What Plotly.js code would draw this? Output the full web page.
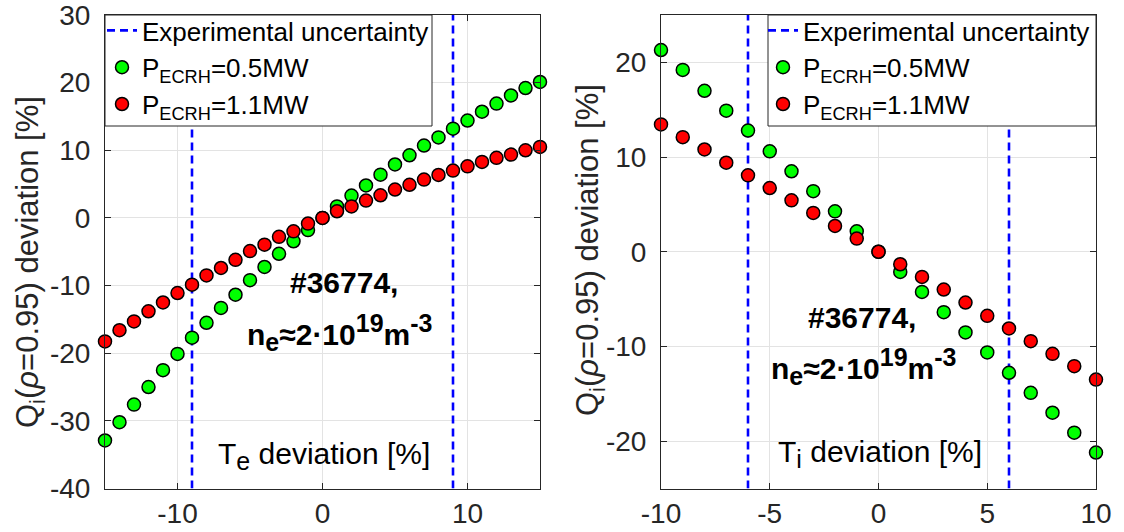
<!DOCTYPE html>
<html>
<head>
<meta charset="utf-8">
<script src="https://cdn.plot.ly/plotly-3.0.1.min.js"></script>
<style>
  html, body { margin: 0; padding: 0; background: #fff; }
  #chart { width: 1124px; height: 532px; }
</style>
</head>
<body>
<div id="chart"></div>
<script>
// Electron temperature scan (left panel)
const teDeviation = [-15,-14,-13,-12,-11,-10,-9,-8,-7,-6,-5,-4,-3,-2,-1,0,1,2,3,4,5,6,7,8,9,10,11,12,13,14,15];
const teQiLowPower = [-32.9,-30.2,-27.6,-25.0,-22.5,-20.1,-17.7,-15.5,-13.3,-11.35,-9.2,-7.25,-5.3,-3.45,-1.8,0,1.7,3.3,4.8,6.4,7.9,9.26,10.7,11.9,13.2,14.4,15.7,16.9,18.1,19.2,20.1];
const teQiHighPower = [-18.25,-16.6,-15.3,-13.8,-12.5,-11.1,-9.87,-8.5,-7.4,-6.2,-4.9,-3.95,-2.8,-1.98,-0.84,0,0.98,1.7,2.56,3.35,4.2,4.9,5.67,6.35,7.0,7.63,8.28,8.88,9.36,10.0,10.5];
const teUncertainty = [-9, 9];

// Ion temperature scan (right panel)
const tiDeviation = [-10,-9,-8,-7,-6,-5,-4,-3,-2,-1,0,1,2,3,4,5,6,7,8,9,10];
const tiQiLowPower = [21.3,19.2,17.0,14.9,12.8,10.6,8.5,6.4,4.27,2.16,0,-2.13,-4.24,-6.38,-8.52,-10.63,-12.78,-14.9,-17.0,-19.1,-21.2];
const tiQiHighPower = [13.45,12.1,10.8,9.4,8.07,6.73,5.43,4.1,2.72,1.39,0,-1.32,-2.66,-3.99,-5.36,-6.77,-8.1,-9.44,-10.78,-12.08,-13.5];
const tiUncertainty = [-6, 6];

// Axis extents and ticks
const teXRange = [-15, 15], teYRange = [-40, 30];
const tiXRange = [-10, 10], tiYRange = [-25, 25];
const teXTicks = [-10, 0, 10], teYTicks = [-40, -30, -20, -10, 0, 10, 20, 30];
const tiXTicks = [-10, -5, 0, 5, 10], tiYTicks = [-20, -10, 0, 10, 20];

// Labels
const seriesNames = ['Experimental uncertainty', 'P<sub>ECRH</sub>=0.5MW', 'P<sub>ECRH</sub>=1.1MW'];
const yLabel = 'Q<sub>i</sub>(<i>ρ</i>=0.95) deviation [%]';
const shotLabel = '<b>#36774,</b>';
const densityLabel = '<b>n<sub><span style="font-size:25px">e</span></sub>≈2·10<sup><span style="font-size:25px">19</span></sup>m<sup><span style="font-size:25px">-3</span></sup></b>';
const teLabel = 'T<sub><span style="font-size:25px">e</span></sub> deviation [%]';
const tiLabel = 'T<sub><span style="font-size:25px">i</span></sub> deviation [%]';

const FONT = 'Liberation Sans, Arial, Helvetica, sans-serif';
const AXIS_COLOR = '#262626';
const W = 1124, H = 532;
const px = v => v / W;
const py = v => 1 - v / H;

function boundLines(bounds, yr) {
  const xs = [], ys = [];
  bounds.forEach((b, i) => {
    if (i > 0) { xs.push(null); ys.push(null); }
    xs.push(b, b); ys.push(yr[0], yr[1]);
  });
  return { x: xs, y: ys };
}

function panelTraces(xv, low, high, bounds, yr, xa, ya, leg) {
  const bl = boundLines(bounds, yr);
  const marker = c => ({ size: 13, color: c, line: { color: '#000', width: 1.5 } });
  return [
    { x: bl.x, y: bl.y, xaxis: xa, yaxis: ya, legend: leg, mode: 'lines', name: seriesNames[0],
      line: { color: '#0000ff', width: 2.6, dash: '8px,5px' }, hoverinfo: 'skip' },
    { x: xv, y: low, xaxis: xa, yaxis: ya, legend: leg, mode: 'markers', name: seriesNames[1],
      marker: marker('#00ff00'), cliponaxis: false },
    { x: xv, y: high, xaxis: xa, yaxis: ya, legend: leg, mode: 'markers', name: seriesNames[2],
      marker: marker('#ff0000'), cliponaxis: false }
  ];
}

const data = [
  ...panelTraces(teDeviation, teQiLowPower, teQiHighPower, teUncertainty, teYRange, 'x', 'y', 'legend'),
  ...panelTraces(tiDeviation, tiQiLowPower, tiQiHighPower, tiUncertainty, tiYRange, 'x2', 'y2', 'legend2')
];

function axis(range, ticks, domain, anchor, standoff) {
  return {
    range: range, tickvals: ticks, ticktext: ticks.map(String), domain: domain, anchor: anchor,
    showline: true, linecolor: AXIS_COLOR, linewidth: 1, mirror: 'ticks',
    ticks: 'inside', ticklen: 6, tickwidth: 1, tickcolor: AXIS_COLOR,
    showgrid: true, gridcolor: '#e3e3e3', gridwidth: 1, zeroline: false,
    tickfont: { family: FONT, size: 28, color: AXIS_COLOR },
    ticklabelstandoff: standoff, ticklabeloverflow: 'allow', fixedrange: true
  };
}

const yDomain = [py(488.5), py(15)];
const legendStyle = {
  bgcolor: 'rgba(0,0,0,0)', borderwidth: 0,
  font: { family: FONT, size: 26, color: '#000' },
  yanchor: 'top', y: py(7), tracegroupgap: 0, itemwidth: 30, xanchor: 'left'
};

// Legend frames drawn as shapes so they hide the dashed lines beneath
const legendBox = (x0, x1) => ({
  type: 'rect', xref: 'paper', yref: 'paper', layer: 'above',
  x0: px(x0), x1: px(x1), y0: py(126), y1: py(15),
  fillcolor: '#ffffff', line: { color: AXIS_COLOR, width: 1 }
});

const textFont = { family: FONT, size: 30, color: '#000' };
const ann = (x, y, text, xref, yref, extra) => Object.assign({
  x: x, y: y, text: text, xref: xref, yref: yref, showarrow: false,
  xanchor: 'center', yanchor: 'middle', font: textFont
}, extra || {});
const yTitleFont = { family: FONT, size: 31, color: AXIS_COLOR };

const layout = {
  width: W, height: H,
  margin: { l: 0, r: 0, t: 0, b: 0 },
  paper_bgcolor: '#ffffff', plot_bgcolor: '#ffffff',
  xaxis: axis(teXRange, teXTicks, [px(105), px(540)], 'y', 0),
  yaxis: axis(teYRange, teYTicks, yDomain, 'x', 8),
  xaxis2: axis(tiXRange, tiXTicks, [px(661), px(1096)], 'y2', 0),
  yaxis2: axis(tiYRange, tiYTicks, yDomain, 'x2', 8),
  legend: Object.assign({ x: px(102) }, legendStyle),
  legend2: Object.assign({ x: px(763) }, legendStyle),
  shapes: [legendBox(105, 432), legendBox(768, 1096)],
  annotations: [
    ann(1.45, -9.6, shotLabel, 'x', 'y'),
    ann(1.15, -17, densityLabel, 'x', 'y'),
    ann(0.1, -35.2, teLabel, 'x', 'y'),
    ann(-0.75, -6.9, shotLabel, 'x2', 'y2'),
    ann(-0.68, -12.1, densityLabel, 'x2', 'y2'),
    ann(0.05, -21.4, tiLabel, 'x2', 'y2'),
    ann(px(30), py(262), yLabel, 'paper', 'paper', { textangle: -90, font: yTitleFont }),
    ann(px(590), py(250), yLabel, 'paper', 'paper', { textangle: -90, font: yTitleFont })
  ]
};

Plotly.newPlot('chart', data, layout, { staticPlot: true, displayModeBar: false });
</script>
</body>
</html>
